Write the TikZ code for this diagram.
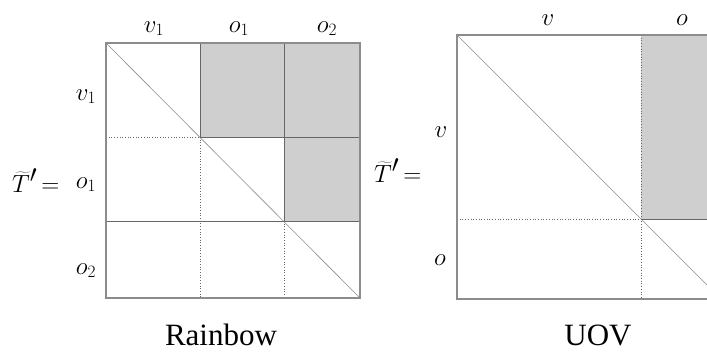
\documentclass[tikz,border=0pt]{standalone}
\usepackage{fontspec}
\setmainfont{Liberation Serif}
\begin{document}
\begin{tikzpicture}[x=1pt,y=-1pt,
  frame/.style={draw=black!45,line width=1.4pt},
  grid/.style={draw=black!60,line width=0.7pt},
  dotgrid/.style={draw=black!60,line width=0.7pt,dotted},
  diag/.style={draw=black!45,line width=0.6pt},
  shade/.style={fill=black!19},
  lab/.style={font=\fontsize{24}{26}\selectfont,inner sep=0pt,anchor=base},
  big/.style={font=\fontsize{34}{36}\selectfont,inner sep=0pt,anchor=base west},
  captext/.style={font=\fontsize{31}{33}\selectfont,inner sep=0pt,anchor=base}]
\newcommand{\Tlabel}{$\widetilde{T}'$\fontsize{27}{29}\selectfont$\,=$}
\useasboundingbox (0,0) rectangle (707,351);
\clip (0,0) rectangle (707,351);
% ---------- Rainbow ----------
\fill[shade] (200,43) rectangle (360,137);
\fill[shade] (284,137) rectangle (360,221);
\draw[diag] (106,43) -- (360,298);
\draw[grid] (200,43) -- (200,137);
\draw[dotgrid] (200,137) -- (200,298);
\draw[grid] (284,43) -- (284,221);
\draw[dotgrid] (284,221) -- (284,298);
\draw[dotgrid] (106,137) -- (200,137);
\draw[grid] (200,137) -- (360,137);
\draw[grid] (106,221) -- (360,221);
\draw[frame] (106,43) rectangle (360,298);
\node[lab] (rv1t) at (154,32) {$v_1$};
\node[lab] (ro1t) at (239,32) {$o_1$};
\node[lab] (ro2t) at (327,32) {$o_2$};
\node[lab] (rv1l) at (86,100) {$v_1$};
\node[lab] (ro1l) at (86,188) {$o_1$};
\node[lab] (ro2l) at (86,274) {$o_2$};
\node[big] (rT) at (12,192) {\Tlabel};
\node[captext] (rname) at (221,345) {Rainbow};
% ---------- UOV ----------
\fill[shade] (641,35) rectangle (721,219);
\draw[diag] (457,35) -- (721,299);
\draw[dotgrid] (641,35) -- (641,299);
\draw[dotgrid] (457,219) -- (641,219);
\draw[grid] (641,219) -- (721,219);
\draw[frame] (457,35) rectangle (721,299);
\node[lab] (uvt) at (548,25) {$v$};
\node[lab] (uot) at (682,25) {$o$};
\node[lab] (uvl) at (441,137) {$v$};
\node[lab] (uol) at (440,265) {$o$};
\node[big] (uT) at (374,182) {\Tlabel};
\node[captext] (uname) at (598,345) {UOV};
\end{tikzpicture}
\end{document}
